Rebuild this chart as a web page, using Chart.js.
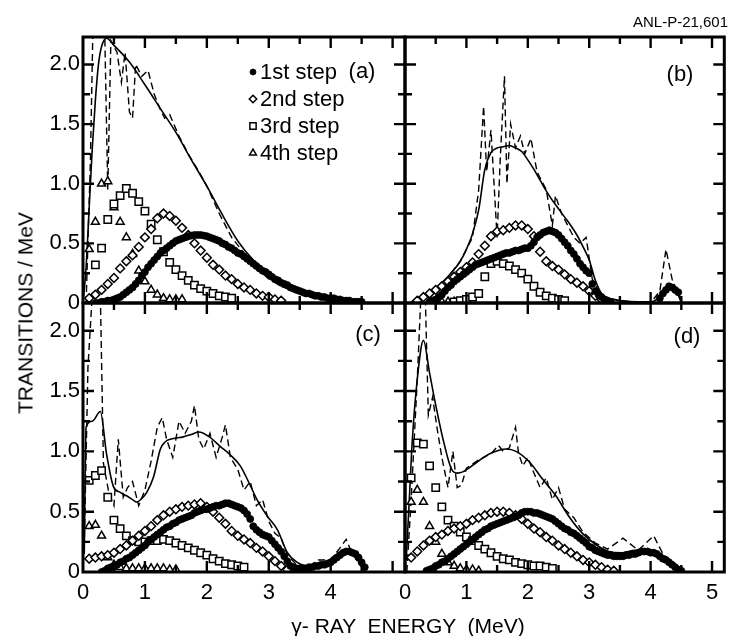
<!DOCTYPE html>
<html>
<head>
<meta charset="utf-8">
<script src="https://cdn.jsdelivr.net/npm/chart.js@4.4.1/dist/chart.umd.min.js"></script>
<style>
    body { margin: 0; background: #fff; }
    #page { position: relative; width: 731px; height: 636px; overflow: hidden; background: #fff;
            font-family: "Liberation Sans", Arial, sans-serif; color: #000; }
    canvas { position: absolute; }
    .txt { position: absolute; white-space: pre; line-height: 1; }
</style>
</head>
<body>
<div id="page">
    <canvas id="panel-a" width="420" height="320" style="left:0;top:0"></canvas>
    <canvas id="panel-b" width="341" height="320" style="left:390px;top:0"></canvas>
    <canvas id="panel-c" width="420" height="356" style="left:0;top:280px"></canvas>
    <canvas id="panel-d" width="341" height="356" style="left:390px;top:280px"></canvas>
    <div class="txt" style="left:633px;top:14px;font-size:15px">ANL-P-21,601</div>
    <div class="txt" style="left:25px;top:313px;font-size:21px;transform:translate(-50%,-50%) rotate(-90deg)">TRANSITIONS / MeV</div>
    <div class="txt" style="left:408px;top:625px;font-size:21px;transform:translate(-50%,-50%)">γ- RAY  ENERGY  (MeV)</div>
</div>
<script>
const _ = null

// energies (MeV) of the plotted points, one grid per step
const E1 = [
    0.10, 0.15, 0.20, 0.25, 0.30, 0.35, 0.40, 0.45, 0.50, 0.55,
    0.60, 0.65, 0.70, 0.75, 0.80, 0.85, 0.90, 0.95, 1.00, 1.05,
    1.10, 1.15, 1.20, 1.25, 1.30, 1.35, 1.40, 1.45, 1.50, 1.55,
    1.60, 1.65, 1.70, 1.75, 1.80, 1.85, 1.90, 1.95, 2.00, 2.05,
    2.10, 2.15, 2.20, 2.25, 2.30, 2.35, 2.40, 2.45, 2.50, 2.55,
    2.60, 2.65, 2.70, 2.75, 2.80, 2.85, 2.90, 2.95, 3.00, 3.05,
    3.10, 3.15, 3.20, 3.25, 3.30, 3.35, 3.40, 3.45, 3.50, 3.55,
    3.60, 3.65, 3.70, 3.75, 3.80, 3.85, 3.90, 3.95, 4.00, 4.05,
    4.10, 4.15, 4.20, 4.25, 4.30, 4.35, 4.40, 4.45, 4.50, 4.55,
    4.60,
]
const E2 = [
    0.1, 0.2, 0.3, 0.4, 0.5, 0.6, 0.7, 0.8, 0.9, 1.0,
    1.1, 1.2, 1.3, 1.4, 1.5, 1.6, 1.7, 1.8, 1.9, 2.0,
    2.1, 2.2, 2.3, 2.4, 2.5, 2.6, 2.7, 2.8, 2.9, 3.0,
    3.1, 3.2, 3.3, 3.4,
]
const E3 = [
    0.1, 0.2, 0.3, 0.4, 0.5, 0.6, 0.7, 0.8, 0.9, 1.0,
    1.1, 1.2, 1.3, 1.4, 1.5, 1.6, 1.7, 1.8, 1.9, 2.0,
    2.1, 2.2, 2.3, 2.4, 2.5, 2.6,
]
const E4 = [
    0.1, 0.2, 0.3, 0.4, 0.5, 0.6, 0.7, 0.8, 0.9, 1.0,
    1.1, 1.2, 1.3, 1.4, 1.5, 1.6,
]

// 1st step (filled circles)
const step1A = [
    _, _, 0.00, 0.00, 0.01, 0.01, 0.02, 0.02, 0.03, 0.04,
    0.05, 0.07, 0.09, 0.11, 0.13, 0.16, 0.19, 0.23, 0.26, 0.30,
    0.33, 0.36, 0.39, 0.42, 0.44, 0.46, 0.48, 0.50, 0.52, 0.53,
    0.54, 0.55, 0.56, 0.565, 0.57, 0.57, 0.57, 0.565, 0.56, 0.55,
    0.54, 0.53, 0.52, 0.50, 0.49, 0.47, 0.46, 0.44, 0.42, 0.41,
    0.39, 0.37, 0.35, 0.33, 0.31, 0.29, 0.27, 0.26, 0.24, 0.22,
    0.20, 0.19, 0.17, 0.16, 0.15, 0.13, 0.12, 0.11, 0.10, 0.09,
    0.08, 0.08, 0.07, 0.06, 0.06, 0.05, 0.05, 0.04, 0.04, 0.04,
    0.03, 0.03, 0.02, 0.02, 0.02, 0.01, 0.01, 0.01, 0.01, _,
    _,
]
const step1B = [
    _, _, _, _, _, _, 0.01, 0.02, 0.03, 0.05,
    0.07, 0.10, 0.13, 0.15, 0.18, 0.20, 0.22, 0.24, 0.26, 0.28,
    0.30, 0.32, 0.33, 0.34, 0.35, 0.36, 0.37, 0.38, 0.39, 0.40,
    0.41, 0.42, 0.42, 0.43, 0.44, 0.44, 0.45, 0.46, 0.46, 0.48,
    0.51, 0.55, 0.57, 0.59, 0.60, 0.61, 0.60, 0.59, 0.57, 0.54,
    0.51, 0.48, 0.44, 0.41, 0.37, 0.33, 0.30, 0.27, 0.25, 0.16,
    0.10, 0.07, 0.05, 0.03, 0.02, 0.01, _, _, _, _,
    _, _, _, _, _, _, _, _, _, _,
    _, 0.04, 0.08, 0.11, 0.14, 0.13, 0.11, 0.09, _, _,
    _,
]
const step1C = [
    _, _, _, _, 0.00, 0.01, 0.03, 0.04, 0.05, 0.06,
    0.08, 0.09, 0.11, 0.12, 0.14, 0.16, 0.18, 0.20, 0.22, 0.25,
    0.27, 0.29, 0.31, 0.33, 0.35, 0.37, 0.38, 0.40, 0.41, 0.43,
    0.44, 0.45, 0.46, 0.47, 0.49, 0.50, 0.51, 0.52, 0.52, 0.53,
    0.54, 0.55, 0.55, 0.56, 0.57, 0.57, 0.56, 0.55, 0.54, 0.53,
    0.51, 0.48, 0.44, 0.38, 0.35, 0.33, 0.31, 0.30, 0.29, 0.26,
    0.23, 0.20, 0.17, 0.13, 0.09, 0.05, 0.04, 0.03, 0.03, 0.03,
    0.03, 0.04, 0.04, 0.05, 0.05, 0.06, 0.06, 0.07, 0.08, 0.10,
    0.12, 0.14, 0.16, 0.17, 0.17, 0.16, 0.15, 0.12, 0.08, 0.04,
    _,
]
const step1D = [
    _, _, _, _, _, 0.01, 0.02, 0.03, 0.05, 0.06,
    0.08, 0.09, 0.11, 0.13, 0.15, 0.17, 0.19, 0.21, 0.23, 0.25,
    0.27, 0.29, 0.31, 0.33, 0.35, 0.36, 0.38, 0.39, 0.40, 0.41,
    0.42, 0.43, 0.44, 0.45, 0.46, 0.47, 0.49, 0.50, 0.50, 0.50,
    0.49, 0.49, 0.48, 0.47, 0.46, 0.45, 0.44, 0.42, 0.40, 0.38,
    0.36, 0.35, 0.33, 0.32, 0.30, 0.28, 0.26, 0.24, 0.21, 0.20,
    0.18, 0.17, 0.16, 0.15, 0.14, 0.14, 0.13, 0.13, 0.13, 0.13,
    0.14, 0.14, 0.15, 0.15, 0.16, 0.17, 0.17, 0.17, 0.16, 0.16,
    0.15, 0.13, 0.11, 0.10, 0.08, 0.06, 0.04, 0.02, 0.01, _,
    _,
]

// 2nd step (open diamonds)
const step2A = [
    0.04, 0.07, 0.11, 0.16, 0.21, 0.29, 0.35, 0.40, 0.47, 0.55,
    0.62, 0.71, 0.75, 0.73, 0.69, 0.63, 0.57, 0.50, 0.44, 0.38,
    0.32, 0.28, 0.23, 0.20, 0.16, 0.13, 0.11, 0.08, 0.06, 0.05,
    0.03, 0.02, _, _,
]
const step2B = [
    _, 0.02, 0.05, 0.08, 0.11, 0.14, 0.18, 0.22, 0.26, 0.30,
    0.34, 0.41, 0.48, 0.56, 0.60, 0.61, 0.63, 0.65, 0.65, 0.62,
    0.56, 0.43, 0.35, 0.31, 0.28, 0.24, 0.20, 0.17, 0.14, 0.10,
    0.06, 0.03, _, _,
]
const step2C = [
    0.11, 0.12, 0.13, 0.14, 0.16, 0.19, 0.22, 0.26, 0.30, 0.34,
    0.38, 0.43, 0.47, 0.50, 0.52, 0.54, 0.55, 0.56, 0.57, 0.54,
    0.50, 0.45, 0.40, 0.34, 0.30, 0.27, 0.24, 0.20, 0.17, 0.13,
    0.09, 0.05, 0.02, _,
]
const step2D = [
    0.12, 0.17, 0.22, 0.26, 0.29, 0.31, 0.34, 0.36, 0.38, 0.40,
    0.43, 0.45, 0.47, 0.49, 0.50, 0.50, 0.49, 0.47, 0.44, 0.40,
    0.36, 0.33, 0.29, 0.26, 0.22, 0.19, 0.16, 0.13, 0.10, 0.08,
    0.06, 0.04, 0.02, 0.01,
]

// 3rd step (open squares)
const step3A = [
    _, 0.32, 0.46, 0.70, 0.83, 0.90, 0.96, 0.92, 0.85, 0.77,
    0.66, 0.53, 0.43, 0.34, 0.28, 0.23, 0.19, 0.15, 0.12, 0.10,
    0.08, 0.06, 0.05, 0.04, _, _,
]
const step3B = [
    _, _, _, _, _, _, _, 0.01, 0.02, 0.03,
    0.05, 0.08, 0.22, 0.33, 0.35, 0.33, 0.31, 0.28, 0.25, 0.20,
    0.14, 0.09, 0.06, 0.04, 0.03, 0.02,
]
const step3C = [
    0.76, 0.80, 0.84, 0.62, 0.43, 0.36, 0.30, 0.26, 0.25, 0.25,
    0.26, 0.26, 0.27, 0.26, 0.24, 0.22, 0.20, 0.18, 0.16, 0.14,
    0.11, 0.09, 0.07, 0.06, 0.05, 0.04,
]
const step3D = [
    0.78, 1.07, 1.06, 0.88, 0.70, 0.54, 0.43, 0.38, 0.33, 0.29,
    0.26, 0.22, 0.19, 0.16, 0.13, 0.11, 0.10, 0.08, 0.07, 0.06,
    0.05, 0.05, 0.04, 0.03, _, _,
]

// 4th step (open triangles)
const step4A = [
    0.45, 0.68, 1.00, 1.02, 0.80, 0.68, 0.55, 0.41, 0.27, 0.18,
    0.11, 0.07, 0.04, 0.03, 0.03, 0.03,
]
const step4B = [
    _, _, _, 0.01, 0.01, 0.01, 0.01, 0.01, 0.01, _,
    _, _, _, _, _, _,
]
const step4C = [
    0.38, 0.39, 0.30, 0.12, 0.06, 0.04, 0.03, 0.03, 0.03, 0.03,
    0.03, 0.03, 0.03, 0.02, 0.02, _,
]
const step4D = [
    0.58, 0.68, 0.58, 0.38, 0.25, 0.15, 0.08, 0.05, 0.03, 0.02,
    0.02, 0.01, _, _, _, _,
]

// sum over all steps (solid line)
const totalE_A = [0, 0.05, 0.1, 0.15, 0.2, 0.25, 0.3, 0.38, 0.5, 0.75, 1.0, 1.25, 1.5, 1.75, 2.0, 2.25, 2.5, 2.75, 3.0, 3.25, 3.5, 3.75, 4.0, 4.25, 4.5]
const totalA = [0, 0.3, 0.8, 1.3, 1.7, 2.0, 2.15, 2.22, 2.16, 2.02, 1.83, 1.63, 1.43, 1.2, 0.98, 0.74, 0.52, 0.36, 0.25, 0.17, 0.11, 0.07, 0.04, 0.02, 0.01]
const totalE_B = [0.1, 0.2, 0.4, 0.6, 0.8, 0.9, 1.0, 1.1, 1.2, 1.3, 1.4, 1.5, 1.6, 1.7, 1.8, 1.9, 2.0, 2.1, 2.2, 2.3, 2.4, 2.5, 2.6, 2.7, 2.8, 2.9, 3.0, 3.1, 3.2, 3.3, 3.5, 3.8, 4.0, 4.1, 4.2, 4.3, 4.4, 4.5]
const totalB = [0.01, 0.04, 0.09, 0.17, 0.28, 0.35, 0.45, 0.58, 0.78, 1.12, 1.26, 1.30, 1.31, 1.32, 1.30, 1.27, 1.20, 1.12, 1.03, 0.94, 0.86, 0.79, 0.72, 0.65, 0.57, 0.47, 0.36, 0.19, 0.08, 0.04, 0.02, 0.01, 0.01, 0.03, 0.09, 0.14, 0.11, 0.03]
const totalE_C = [0.02, 0.05, 0.15, 0.28, 0.38, 0.49, 0.6, 0.71, 0.8, 0.87, 0.95, 1.03, 1.14, 1.25, 1.33, 1.41, 1.62, 1.75, 1.87, 2.04, 2.22, 2.38, 2.54, 2.68, 2.81, 2.98, 3.14, 3.3, 3.46, 3.63, 3.8, 4.0, 4.1, 4.22, 4.35, 4.5]
const totalC = [0.15, 1.2, 1.25, 1.33, 0.98, 0.71, 0.66, 0.63, 0.6, 0.58, 0.61, 0.66, 0.79, 1.02, 1.08, 1.1, 1.12, 1.14, 1.16, 1.12, 1.04, 0.97, 0.88, 0.74, 0.6, 0.46, 0.35, 0.16, 0.08, 0.05, 0.06, 0.08, 0.12, 0.17, 0.15, 0.05]
const totalE_D = [0.02, 0.07, 0.12, 0.2, 0.3, 0.4, 0.49, 0.62, 0.76, 0.85, 0.94, 1.17, 1.38, 1.65, 1.81, 2.03, 2.24, 2.46, 2.67, 2.89, 3.1, 3.32, 3.53, 3.75, 3.97, 4.19, 4.35, 4.46]
const totalD = [0.1, 0.6, 1.1, 1.6, 1.92, 1.65, 1.41, 1.1, 0.85, 0.82, 0.83, 0.91, 0.98, 1.02, 1.0, 0.91, 0.77, 0.63, 0.46, 0.32, 0.23, 0.17, 0.16, 0.18, 0.18, 0.12, 0.07, 0.03]

// raw spectrum (dashed line)
const rawE_A = [0.05, 0.12, 0.16, 0.35, 0.40, 0.45, 0.55, 0.62, 0.68, 0.75, 0.80, 0.85, 0.95, 1.05, 1.15, 1.25, 1.32, 1.40, 1.55, 1.70, 1.85, 2.0, 2.2, 2.4, 2.6, 2.8, 3.0, 3.2, 3.5, 3.8, 4.2, 4.5]
const rawA = [0.0, 1.2, 2.3, 2.3, 0.95, 2.2, 2.1, 1.85, 2.1, 1.6, 1.55, 2.0, 1.9, 1.95, 1.75, 1.62, 1.55, 1.58, 1.4, 1.25, 1.12, 0.98, 0.75, 0.55, 0.42, 0.3, 0.2, 0.14, 0.08, 0.05, 0.02, 0.01]
const rawE_B = [0.2, 0.6, 0.9, 1.1, 1.2, 1.28, 1.33, 1.4, 1.5, 1.55, 1.62, 1.66, 1.72, 1.8, 1.88, 1.95, 2.05, 2.15, 2.3, 2.4, 2.45, 2.55, 2.65, 2.75, 2.85, 2.95, 3.05, 3.2, 3.5, 4.0, 4.15, 4.25, 4.35, 4.5]
const rawB = [0.02, 0.15, 0.35, 0.55, 0.95, 1.65, 1.1, 1.45, 0.55, 1.2, 1.9, 1.0, 1.5, 1.3, 1.4, 1.25, 1.38, 1.1, 0.95, 0.65, 0.9, 0.75, 0.65, 0.55, 0.5, 0.55, 0.2, 0.06, 0.02, 0.0, 0.1, 0.45, 0.2, 0.0]
const rawE_C = [0.02, 0.08, 0.15, 0.28, 0.33, 0.42, 0.5, 0.57, 0.65, 0.72, 0.8, 0.9, 1.0, 1.1, 1.2, 1.28, 1.35, 1.45, 1.55, 1.65, 1.75, 1.8, 1.87, 1.95, 2.05, 2.15, 2.25, 2.3, 2.38, 2.5, 2.6, 2.7, 2.8, 2.9, 3.0, 3.1, 3.2, 3.3, 3.45, 3.6, 3.8, 4.0, 4.15, 4.25, 4.35, 4.5]
const rawC = [0.2, 1.7, 2.3, 2.3, 0.9, 0.65, 0.55, 1.1, 0.62, 0.7, 0.75, 0.55, 0.68, 0.92, 1.2, 1.28, 1.1, 0.95, 1.25, 1.15, 1.25, 1.38, 1.1, 1.02, 1.15, 0.95, 1.12, 1.22, 0.95, 0.85, 0.68, 0.75, 0.55, 0.6, 0.42, 0.32, 0.28, 0.14, 0.06, 0.03, 0.1, 0.1, 0.2, 0.27, 0.15, 0.04]
const rawE_D = [0.03, 0.1, 0.2, 0.26, 0.33, 0.38, 0.45, 0.52, 0.6, 0.7, 0.78, 0.85, 0.92, 1.0, 1.2, 1.4, 1.52, 1.6, 1.7, 1.8, 1.85, 1.92, 2.0, 2.1, 2.2, 2.3, 2.4, 2.5, 2.6, 2.75, 2.9, 3.1, 3.3, 3.55, 3.8, 4.05, 4.2, 4.35, 4.5]
const rawD = [0.0, 0.6, 1.6, 2.3, 2.3, 1.3, 1.45, 1.2, 0.95, 0.7, 1.0, 0.7, 0.72, 0.86, 0.93, 0.98, 1.05, 1.0, 1.03, 1.2, 0.98, 0.88, 0.95, 0.82, 0.7, 0.78, 0.6, 0.7, 0.52, 0.45, 0.33, 0.24, 0.19, 0.28, 0.18, 0.3, 0.15, 0.08, 0.02]

const STEP_LABELS = ['1st step', '2nd step', '3rd step', '4th step']

const FONT = '"Liberation Sans", Arial, sans-serif'
Chart.defaults.font.family = FONT
Chart.defaults.font.size = 22
Chart.defaults.color = '#000'

const pts = (xs, ys) => xs.map((x, i) => ({ x: x, y: ys[i] })).filter(p => p.y !== null)

const MARKERS = [
    { pointStyle: 'circle', pointRadius: 3.5, pointBackgroundColor: '#000', pointBorderWidth: 0.8 },
    { pointStyle: 'rectRot', pointRadius: 4.4, pointBackgroundColor: '#fff', pointBorderWidth: 1.5 },
    { pointStyle: 'rect', pointRadius: 5.2, pointBackgroundColor: '#fff', pointBorderWidth: 1.5 },
    { pointStyle: 'triangle', pointRadius: 4.6, pointBackgroundColor: '#fff', pointBorderWidth: 1.5 },
]

// frame with inward ticks on all four sides
const framePlugin = {
    id: 'frame',
    afterDatasetsDraw(chart) {
        const { ctx, chartArea: a, scales } = chart
        const x = scales.x
        const y = scales.y
        ctx.save()
        ctx.strokeStyle = '#000'
        ctx.lineWidth = 2.4
        ctx.beginPath()
        for (let k = 1; k <= 10; k++) {
            const px = x.getPixelForValue(k / 2)
            const len = k % 2 === 0 ? 11 : 7
            ctx.moveTo(px, a.bottom)
            ctx.lineTo(px, a.bottom - len)
            ctx.moveTo(px, a.top)
            ctx.lineTo(px, a.top + len)
        }
        for (let k = 1; k <= 8; k++) {
            const py = y.getPixelForValue(k / 4)
            const len = k % 2 === 0 ? 11 : 7
            ctx.moveTo(a.left, py)
            ctx.lineTo(a.left + len, py)
            ctx.moveTo(a.right, py)
            ctx.lineTo(a.right - len, py)
        }
        ctx.stroke()
        ctx.lineWidth = 3
        ctx.strokeRect(a.left, a.top, a.right - a.left, a.bottom - a.top)
        ctx.restore()
    },
}

// panel tag "(a)" and the step legend
const panelText = {
    id: 'panelText',
    afterDraw(chart, args, opts) {
        const { ctx, chartArea: a } = chart
        ctx.save()
        ctx.fillStyle = '#000'
        ctx.strokeStyle = '#000'
        ctx.font = '22px ' + FONT
        ctx.textBaseline = 'middle'
        ctx.textAlign = 'center'
        ctx.fillText(opts.tag, a.left + opts.tagX, a.top + opts.tagY)
        if (opts.legend) {
            ctx.textAlign = 'left'
            STEP_LABELS.forEach((label, i) => {
                const m = MARKERS[i]
                const yy = a.top + 35 + i * 27
                ctx.fillStyle = m.pointBackgroundColor
                ctx.lineWidth = m.pointBorderWidth
                Chart.helpers.drawPoint(ctx, { pointStyle: m.pointStyle, radius: m.pointRadius * 0.85, rotation: 0, borderWidth: m.pointBorderWidth }, a.left + 170, yy)
                ctx.fillStyle = '#000'
                ctx.fillText(label, a.left + 177, yy + 1)
            })
        }
        ctx.restore()
    },
}

function makePanel(canvasId, d, cfg) {
    const datasets = [
        { label: STEP_LABELS[0], data: pts(E1, d.s1), ...MARKERS[0] },
        { label: STEP_LABELS[1], data: pts(E2, d.s2), ...MARKERS[1] },
        { label: STEP_LABELS[2], data: pts(E3, d.s3), ...MARKERS[2] },
        { label: STEP_LABELS[3], data: pts(E4, d.s4), ...MARKERS[3] },
        { label: 'sum', data: pts(d.totE, d.tot), showLine: true, pointRadius: 0, borderWidth: 1.6, cubicInterpolationMode: 'monotone' },
        { label: 'raw', data: pts(d.rawE, d.raw), showLine: true, pointRadius: 0, borderWidth: 1.4, borderDash: [7, 4] },
    ]
    datasets.forEach(ds => {
        ds.borderColor = '#000'
        ds.pointBorderColor = '#000'
    })
    return new Chart(document.getElementById(canvasId), {
        type: 'scatter',
        data: { datasets: datasets },
        options: {
            responsive: false,
            animation: false,
            events: [],
            layout: { padding: cfg.padding },
            plugins: {
                legend: { display: false },
                tooltip: { enabled: false },
                panelText: cfg.text,
            },
            scales: {
                x: {
                    type: 'linear',
                    min: 0,
                    max: 5.2,
                    display: cfg.showX,
                    grid: { display: false, drawTicks: false },
                    border: { display: false },
                    ticks: {
                        stepSize: 1,
                        includeBounds: false,
                        autoSkip: false,
                        maxRotation: 0,
                        padding: 8,
                        callback: v => (v > cfg.maxLabel ? '' : String(v)),
                    },
                    afterFit: s => { s.height = cfg.showX ? 64 : 0 },
                },
                y: {
                    min: 0,
                    max: 2.23,
                    display: cfg.showY,
                    grid: { display: false, drawTicks: false },
                    border: { display: false },
                    ticks: {
                        stepSize: 0.5,
                        includeBounds: false,
                        padding: 3,
                        callback: v => (v === 0 ? '0' : v.toFixed(1)),
                    },
                    afterFit: s => { s.width = cfg.showY ? 83 : 0 },
                },
            },
        },
        plugins: [framePlugin, panelText],
    })
}

makePanel('panel-a',
    { s1: step1A, s2: step2A, s3: step3A, s4: step4A, totE: totalE_A, tot: totalA, rawE: rawE_A, raw: rawA },
    { padding: { top: 37, right: 15, bottom: 17, left: 0 }, showX: false, showY: true, maxLabel: 4,
      text: { tag: '(a)', tagX: 279, tagY: 35, legend: true } })
makePanel('panel-b',
    { s1: step1B, s2: step2B, s3: step3B, s4: step4B, totE: totalE_B, tot: totalB, rawE: rawE_B, raw: rawB },
    { padding: { top: 37, right: 6, bottom: 17, left: 15 }, showX: false, showY: false, maxLabel: 5,
      text: { tag: '(b)', tagX: 275, tagY: 38, legend: false } })
makePanel('panel-c',
    { s1: step1C, s2: step2C, s3: step3C, s4: step4C, totE: totalE_C, tot: totalC, rawE: rawE_C, raw: rawC },
    { padding: { top: 23, right: 15, bottom: 0, left: 0 }, showX: true, showY: true, maxLabel: 4,
      text: { tag: '(c)', tagX: 285, tagY: 32, legend: false } })
makePanel('panel-d',
    { s1: step1D, s2: step2D, s3: step3D, s4: step4D, totE: totalE_D, tot: totalD, rawE: rawE_D, raw: rawD },
    { padding: { top: 23, right: 6, bottom: 0, left: 15 }, showX: true, showY: false, maxLabel: 5,
      text: { tag: '(d)', tagX: 282, tagY: 34, legend: false } })
</script>
</body>
</html>
